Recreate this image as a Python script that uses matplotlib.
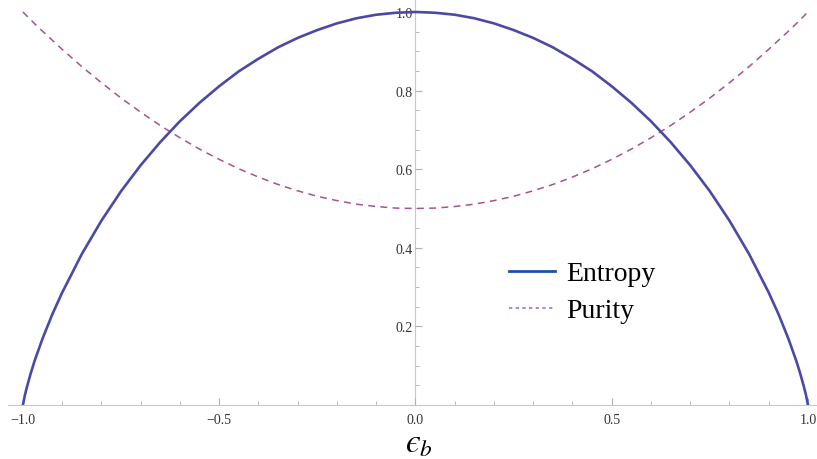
import matplotlib
matplotlib.use("Agg")
import matplotlib.pyplot as plt
from matplotlib.lines import Line2D
from matplotlib.ticker import MultipleLocator

# values (symmetric about 0)
eps = [-1.0, -0.995, -0.99, -0.98, -0.97, -0.95, -0.925, -0.9, -0.85, -0.8, -0.75,
       -0.7, -0.65, -0.6, -0.55, -0.5, -0.45, -0.4, -0.35, -0.3, -0.25, -0.2,
       -0.15, -0.1, -0.05, 0.0, 0.05, 0.1, 0.15, 0.2, 0.25, 0.3, 0.35, 0.4, 0.45,
       0.5, 0.55, 0.6, 0.65, 0.7, 0.75, 0.8, 0.85, 0.9, 0.925, 0.95, 0.97, 0.98,
       0.99, 0.995, 1.0]
entropy = [0.0, 0.025, 0.045, 0.081, 0.113, 0.169, 0.231, 0.286, 0.384, 0.469, 0.544,
           0.610, 0.669, 0.722, 0.769, 0.811, 0.849, 0.881, 0.910, 0.934, 0.954, 0.971,
           0.984, 0.993, 0.998, 1.0, 0.998, 0.993, 0.984, 0.971, 0.954, 0.934, 0.910,
           0.881, 0.849, 0.811, 0.769, 0.722, 0.669, 0.610, 0.544, 0.469, 0.384, 0.286,
           0.231, 0.169, 0.113, 0.081, 0.045, 0.025, 0.0]
purity = [1.0, 0.995, 0.990, 0.980, 0.970, 0.951, 0.928, 0.905, 0.861, 0.820, 0.781,
          0.745, 0.711, 0.680, 0.651, 0.625, 0.601, 0.580, 0.561, 0.545, 0.531, 0.520,
          0.511, 0.505, 0.501, 0.500, 0.501, 0.505, 0.511, 0.520, 0.531, 0.545, 0.561,
          0.580, 0.601, 0.625, 0.651, 0.680, 0.711, 0.745, 0.781, 0.820, 0.861, 0.905,
          0.928, 0.951, 0.970, 0.980, 0.990, 0.995, 1.0]
x_ticks = [-1.0, -0.5, 0.0, 0.5, 1.0]
y_ticks = [0.2, 0.4, 0.6, 0.8, 1.0]

plt.rcParams["font.family"] = ["Liberation Serif", "DejaVu Serif"]
plt.rcParams["mathtext.fontset"] = "stix"

fig = plt.figure(figsize=(8.17, 4.6), dpi=100)
ax = fig.add_axes([8 / 817, 54 / 460, 809 / 817, 406 / 460])

ax.plot(eps, purity, color="#a8538a", lw=1.1, ls=(0, (4.5, 3.5)), zorder=2)
ax.plot(eps, entropy, color="#4a4aa6", lw=1.9, zorder=3)

ax.set_xlim(-1.038, 1.023)
ax.set_ylim(0, 1.033)

for s in ["top", "right"]:
    ax.spines[s].set_visible(False)
ax.spines["left"].set_position(("data", 0))
ax.spines["left"].set_color("#c8c8c8")
ax.spines["bottom"].set_color("#c8c8c8")
ax.spines["left"].set_zorder(1)

ax.set_xticks(x_ticks)
ax.set_xticklabels(["\u22121.0", "\u22120.5", "0.0", "0.5", "1.0"])
ax.set_yticks(y_ticks)
ax.set_yticklabels(["0.2", "0.4", "0.6", "0.8", "1.0"])
ax.xaxis.set_minor_locator(MultipleLocator(0.1))
ax.yaxis.set_minor_locator(MultipleLocator(0.05))
ax.tick_params(which="both", direction="in", color="#b0b0b0", labelsize=10,
               labelcolor="#333333")
ax.tick_params(which="major", length=5, pad=6)
ax.tick_params(which="minor", length=3)
ax.tick_params(axis="y", pad=2)

fig.text(0.513, 0.001, "$\u03f5_b$", fontsize=24, ha="center", va="bottom")

handles = [Line2D([], [], color="#1f4fae", lw=2.0),
           Line2D([], [], color="#a070d0", lw=1.2, ls=(0, (2, 2)))]
ax.legend(handles, ["Entropy", "Purity"], frameon=False, fontsize=20,
          loc="upper left", bbox_to_anchor=(0.619, 0.355), handlelength=1.65,
          handletextpad=0.4, labelspacing=0.42, borderpad=0, borderaxespad=0)

fig.savefig("out.png", dpi=100)
